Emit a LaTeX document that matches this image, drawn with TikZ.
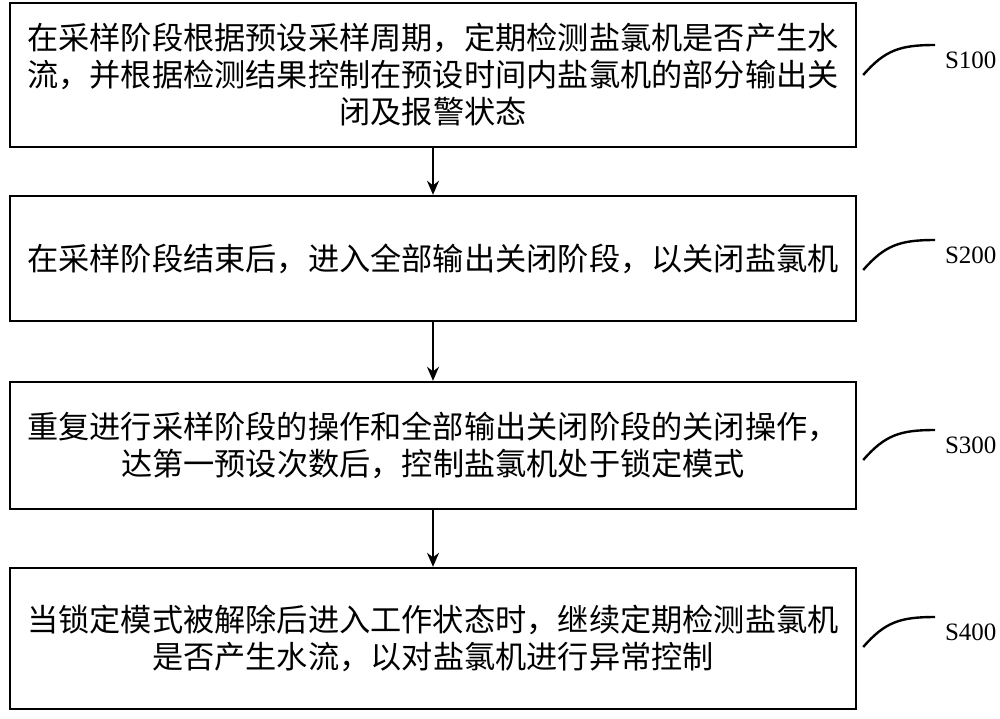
\documentclass[tikz,border=0pt]{standalone}
\usepackage{fontspec}
\setmainfont{Liberation Serif}
\newfontfamily\cjk{Noto Sans CJK SC}
\usetikzlibrary{arrows.meta}
\begin{document}
\begin{tikzpicture}[x=0.5pt,y=-0.5pt,
  stepbox/.style={draw,line width=1.2pt,minimum width=846*0.5pt,text width=830*0.5pt,align=center,font=\cjk\fontsize{15.6}{18.5}\selectfont,inner sep=0pt},
  lab/.style={anchor=west,font=\fontsize{12.5}{14}\selectfont},
  lead/.style={line width=1.2pt},
  arr/.style={-{Stealth[length=7pt,width=6pt]},line width=1pt}]
\useasboundingbox (0,0) rectangle (1000,718);
\node[stepbox,minimum height=144*0.5pt] (b1) at (433,75) {在采样阶段根据预设采样周期，定期检测盐氯机是否产生水\\流，并根据检测结果控制在预设时间内盐氯机的部分输出关\\闭及报警状态};
\node[stepbox,minimum height=125*0.5pt] (b2) at (433,258.5) {在采样阶段结束后，进入全部输出关闭阶段，以关闭盐氯机};
\node[stepbox,minimum height=127*0.5pt] (b3) at (433,445.5) {重复进行采样阶段的操作和全部输出关闭阶段的关闭操作，\\达第一预设次数后，控制盐氯机处于锁定模式};
\node[stepbox,minimum height=141*0.5pt] (b4) at (433,638.5) {当锁定模式被解除后进入工作状态时，继续定期检测盐氯机\\是否产生水流，以对盐氯机进行异常控制};
\draw[arr] (b1.south) -- (b2.north);
\draw[arr] (b2.south) -- (b3.north);
\draw[arr] (b3.south) -- (b4.north);
\foreach \b/\t/\y in {b1/S100/45,b2/S200/240,b3/S300/430,b4/S400/617}{
  \coordinate (e\b) at (935,\y);
  \draw[lead] ([xshift=3pt]\b.east |- 0,\y+30) .. controls (885,\y+5) and (900,\y) .. (e\b);
  \node[lab] (l\b) at (938,\y+15) {\t};
}
\end{tikzpicture}
\end{document}
